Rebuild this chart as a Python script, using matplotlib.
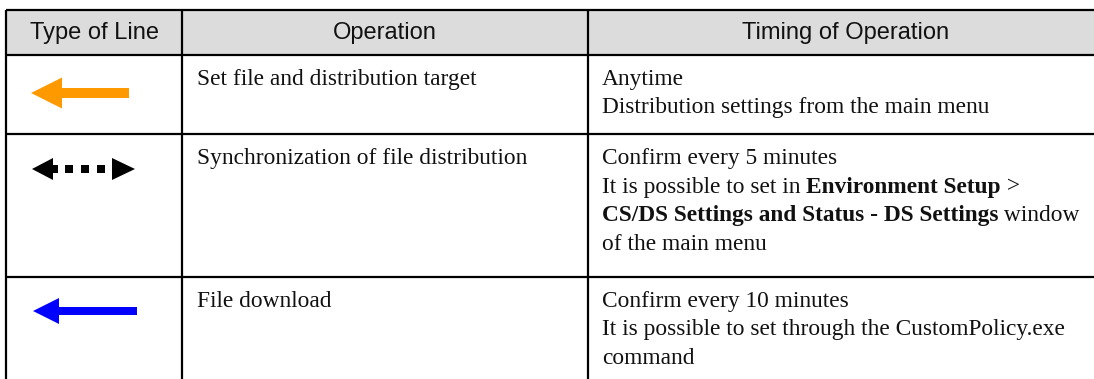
import matplotlib
matplotlib.use("Agg")
import matplotlib.pyplot as plt
from matplotlib.patches import Polygon, Rectangle

# Table contents
headers = ["Type of Line", "Operation", "Timing of Operation"]
operations = ["Set file and distribution target",
              "Synchronization of file distribution",
              "File download"]
# each timing line is a list of (text, bold) runs
timings = [
    [[("Anytime", False)],
     [("Distribution settings from the main menu", False)]],
    [[("Confirm every 5 minutes", False)],
     [("It is possible to set in ", False), ("Environment Setup", True), (" >", False)],
     [("CS/DS Settings and Status - DS Settings", True), (" window", False)],
     [("of the main menu", False)]],
    [[("Confirm every 10 minutes", False)],
     [("It is possible to set through the CustomPolicy.exe", False)],
     [("command", False)]],
]
line_kinds = ["orange", "dotted", "blue"]

W, H = 1094, 379
col_edges = [6, 182, 588, 1104]
row_edges = [10, 55, 134, 277, 385]

fig = plt.figure(figsize=(W / 100, H / 100), dpi=100)
ax = fig.add_axes([0, 0, 1, 1])
ax.set_xlim(0, W)
ax.set_ylim(H, 0)
ax.axis("off")
renderer = fig.canvas.get_renderer()

# header background
ax.add_patch(Rectangle((col_edges[0], row_edges[0]), col_edges[-1] - col_edges[0],
                       row_edges[1] - row_edges[0], facecolor="#dcdcdc", edgecolor="none"))

lw = 1.6
for x in col_edges:
    ax.plot([x, x], [row_edges[0], row_edges[-1]], color="black", lw=lw, solid_capstyle="butt")
for y in row_edges:
    ax.plot([col_edges[0], col_edges[-1]], [y, y], color="black", lw=lw, solid_capstyle="butt")

for i, h in enumerate(headers):
    cx = (col_edges[i] + col_edges[i + 1]) / 2
    ax.text(cx, (row_edges[0] + row_edges[1]) / 2 + 1, h, ha="center", va="center",
            family="Liberation Sans", fontsize=17, color="#111111")

body_font = dict(family="Liberation Serif", fontsize=16.8, color="#111111")
line_gap = 28.5
first_base = 30


def draw_runs(x, y, runs):
    for txt, bold in runs:
        t = ax.text(x, y, txt, ha="left", va="baseline",
                    fontweight="bold" if bold else "normal", **body_font)
        x += t.get_window_extent(renderer=renderer).width


for r in range(3):
    top = row_edges[r + 1]
    ax.text(col_edges[1] + 15, top + first_base, operations[r], ha="left",
            va="baseline", **body_font)
    for k, runs in enumerate(timings[r]):
        draw_runs(col_edges[2] + 14, top + first_base + k * line_gap, runs)

# line symbols
def left_arrow(tip, back, end, yc, head_h, shaft_h, color):
    ax.add_patch(Polygon([(tip, yc), (back, yc - head_h / 2), (back, yc + head_h / 2)],
                         closed=True, facecolor=color, edgecolor="none"))
    ax.add_patch(Rectangle((back - 1, yc - shaft_h / 2), end - back + 1, shaft_h,
                           facecolor=color, edgecolor="none"))


for r, kind in enumerate(line_kinds):
    if kind == "orange":
        left_arrow(31, 62, 129, 93, 31, 10, "#ff9900")
    elif kind == "blue":
        left_arrow(33, 59, 137, 311, 26, 8, "#0000ff")
    else:
        yc = 169
        ax.add_patch(Polygon([(32, yc), (53, yc - 11), (53, yc + 11)], closed=True,
                             facecolor="black", edgecolor="none"))
        ax.add_patch(Polygon([(135, yc), (112, yc - 11), (112, yc + 11)], closed=True,
                             facecolor="black", edgecolor="none"))
        for sx in [53, 65, 81, 97]:
            w = 5 if sx == 53 else 8
            ax.add_patch(Rectangle((sx, yc - 4), w, 8, facecolor="black", edgecolor="none"))

fig.savefig("out.png", dpi=100)
